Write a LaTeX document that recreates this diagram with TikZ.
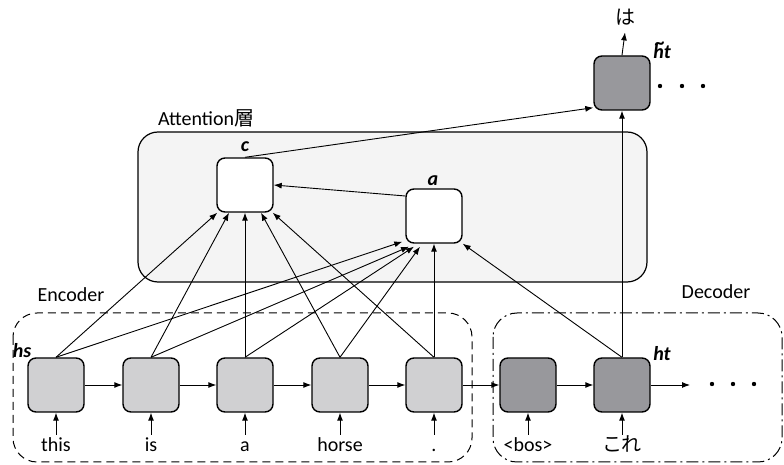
\documentclass[tikz,border=0pt]{standalone}
\usepackage{fontspec}
\setmainfont{Carlito}
\newfontfamily\jpfont{Noto Sans CJK JP}
\usepackage{tikz}
\usetikzlibrary{arrows.meta,positioning,calc}
\definecolor{encgray}{RGB}{208,208,210}
\definecolor{decgray}{RGB}{152,152,156}
\definecolor{attfill}{RGB}{244,244,244}
\newcommand{\htilde}{\ooalign{h\cr\hidewidth\kern0.15em\raisebox{0.95ex}{\textasciitilde}\hidewidth\cr}}

\begin{document}
\begin{tikzpicture}[x=0.5pt,y=-0.5pt,
    cell/.style={draw,line width=0.7pt,rounded corners=4pt,minimum width=28pt,minimum height=27pt,inner sep=0pt},
    enccell/.style={cell,fill=encgray},
    deccell/.style={cell,fill=decgray},
    attcell/.style={cell,fill=white},
    conn/.style={-{Latex[length=4pt,width=3pt]},line width=0.45pt},
    lbl/.style={font=\bfseries\itshape},
    word/.style={text height=7pt,text depth=2pt,inner sep=1.5pt}]
    \useasboundingbox (0,0) rectangle (784,465);

    % Attention layer
    \draw[fill=attfill,rounded corners=10pt,line width=0.6pt] (138,132) rectangle (647,282);
    \node[anchor=west] (attlabel) at (151,118) {Attention{\jpfont 層}};

    % Encoder / Decoder frames
    \draw[dash pattern=on 4pt off 2.5pt,rounded corners=12pt,line width=0.5pt] (13,313) rectangle (472,462);
    \draw[dash pattern=on 6pt off 2pt on 1pt off 2pt,rounded corners=12pt,line width=0.5pt] (493,313) rectangle (782,462);
    \node (enclabel) at (71,295) {Encoder};
    \node (declabel) at (716,292) {Decoder};

    % cells
    \node[enccell] (enc1) at (56,385) {};
    \node[enccell] (enc2) at (151,385) {};
    \node[enccell] (enc3) at (245,385) {};
    \node[enccell] (enc4) at (340,385) {};
    \node[enccell] (enc5) at (434,385) {};
    \node[deccell] (dec1) at (528,385) {};
    \node[deccell] (dec2) at (622,385) {};
    \node[deccell] (out) at (622,83) {};
    \node[attcell] (ctx) at (245,185) {};
    \node[attcell] (att) at (434,216) {};

    % labels
    \node[lbl] (hslabel) at (22,351) {hs};
    \node[lbl] (htlabel) at (662,354) {ht};
    \node[lbl,inner sep=1pt] (outlabel) at (662,52) {\htilde t};
    \node[lbl] (ctxlabel) at (245,147) {c};
    \node[lbl] (attlbl) at (433,181) {a};

    % words
    \node[word] (w1) at (56,447) {this};
    \node[word] (w2) at (151,447) {is};
    \node[word] (w3) at (245,447) {a};
    \node[word] (w4) at (340,447) {horse};
    \node[word] (w5) at (434,447) {.};
    \node[word] (wbos) at (528,447) {<bos>};
    \node[word,font=\jpfont] (wkore) at (622,447) {これ};
    \node[word,font=\jpfont] (wha) at (625,20) {は};

    \foreach \i in {1,...,5}
        \draw[conn] (w\i.north) -- (enc\i.south);
    \draw[conn] (wbos.north) -- (dec1.south);
    \draw[conn] (wkore.north) -- (dec2.south);
    \draw[conn] (out.north) -- (wha.south);

    % recurrent connections
    \foreach \i/\j in {1/2,2/3,3/4,4/5}
        \draw[conn] (enc\i.east) -- (enc\j.west);
    \draw[conn] (enc5.east) -- (dec1.west);
    \draw[conn] (dec1.east) -- (dec2.west);
    \coordinate (tail) at (690,385);
    \draw[conn] (dec2.east) -- (tail);
    \foreach \x in {712,733,754}
        \fill (\x,384) circle (1.1pt);
    \foreach \x in {660,682,703}
        \fill (\x,86) circle (1.1pt);

    % encoder states to context
    \draw[conn] (enc1.north) -- (ctx.-135);
    \draw[conn] (enc2.north) -- (ctx.-120);
    \draw[conn] (enc3.north) -- (ctx.-90);
    \draw[conn] (enc4.north) -- (ctx.-60);
    \draw[conn] (enc5.north) -- (ctx.-45);

    % encoder states to attention weights
    \draw[conn] (enc1.north) -- ($(att.south west)+(-3,-2)$);
    \draw[conn] (enc2.north) -- ($(att.south)+(-25,3)$);
    \draw[conn] (enc3.north) -- ($(att.south)+(-20,3)$);
    \draw[conn] (enc4.north) -- ($(att.south)+(-14,3)$);
    \draw[conn] (enc5.north) -- (att.south);

    % decoder state
    \draw[conn] (dec2.north) -- (att.south east);
    \draw[conn] (dec2.north) -- (out.south);
    \draw[conn] (att.west |- 0,196) -- (ctx.east);
    \draw[conn] (ctx.north) -- ($(out.south west)+(0,-3)$);
\end{tikzpicture}
\end{document}
